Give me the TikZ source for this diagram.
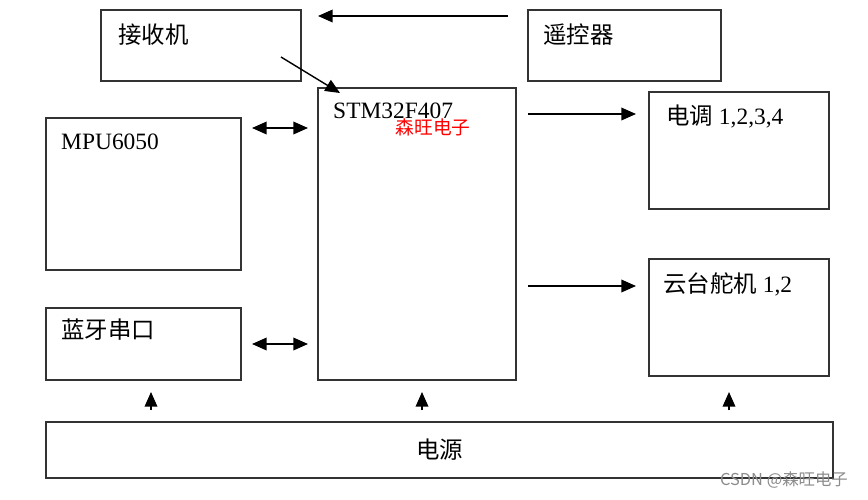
\documentclass[tikz,border=0pt]{standalone}
\usepackage{fontspec}
\setmainfont{Liberation Serif}
\newfontfamily\cjk{Noto Sans CJK SC}
\usepackage{tikz}
\usetikzlibrary{arrows.meta,fit}
\tikzset{
  blockbox/.style = {draw=black!80, line width=1.2pt, inner sep=0pt, outer sep=0pt, fit={#1}},
  blocklbl/.style = {anchor=west, inner sep=0pt, font=\fontsize{20}{24}\selectfont},
  sigar/.style    = {-{Triangle[length=4.4mm,width=3.8mm]}, line width=1.2pt},
  busar/.style    = {{Triangle[length=4.4mm,width=3.8mm]}-{Triangle[length=4.4mm,width=3.8mm]}, line width=1.2pt}
}

\begin{document}
\begin{tikzpicture}[x=0.03cm,y=-0.03cm]
  \useasboundingbox (0,0) rectangle (868,499);
  % blocks
  \node[blockbox={(101,10) (301,81)}]   (rx)   {};
  \node[blockbox={(528,10) (721,81)}]   (rc)   {};
  \node[blockbox={(318,88) (516,380)}]  (mcu)  {};
  \node[blockbox={(46,118) (241,270)}]  (imu)  {};
  \node[blockbox={(46,308) (241,380)}]  (bt)   {};
  \node[blockbox={(649,92) (829,209)}]  (esc)  {};
  \node[blockbox={(649,259) (829,376)}] (gim)  {};
  \node[blockbox={(46,422) (833,478)}]  (pwr)  {};
  % labels
  \node[blocklbl] (rxt)  at ([shift={(17,25)}]rx.north west)   {\cjk 接收机};
  \node[blocklbl] (rct)  at ([shift={(15,25)}]rc.north west)   {\cjk 遥控器};
  \node[blocklbl] (mcut) at ([shift={(15,23)}]mcu.north west)  {STM32F407};
  \node[blocklbl] (imut) at ([shift={(15,24)}]imu.north west)  {MPU6050};
  \node[blocklbl] (btt)  at ([shift={(15,22)}]bt.north west)   {\cjk 蓝牙串口};
  \node[blocklbl] (esct) at ([shift={(17,24)}]esc.north west)  {{\cjk 电调} 1,2,3,4};
  \node[blocklbl] (gimt) at ([shift={(14,25)}]gim.north west)  {{\cjk 云台舵机} 1,2};
  \node[font=\fontsize{20}{24}\selectfont] (pwrt) at (pwr.center) {\cjk 电源};
  % watermarks
  \node[red, font=\cjk\fontsize{16}{18}\selectfont, inner sep=0pt] (wm) at (433,127) {森旺电子};
  \node[black!45, font=\cjk\fontsize{14}{16}\selectfont, inner sep=0pt] (csdn) at (784,480) {CSDN @森旺电子};
  % connections
  \draw[sigar] ([shift={(-20,6)}]rc.north west) -- ([shift={(17,6)}]rx.north east);
  \draw[sigar] ([shift={(-20,-24)}]rx.south east) -- ([shift={(22,5)}]mcu.north west);
  \draw[busar] ([shift={(11,10)}]imu.north east) -- ([shift={(-10,40)}]mcu.north west);
  \draw[busar] ([shift={(11,36)}]bt.north east) -- ([shift={(-10,-36)}]mcu.south west);
  \draw[sigar] ([shift={(12,26)}]mcu.north east) -- ([shift={(-13,22)}]esc.north west);
  \draw[sigar] ([shift={(12,198)}]mcu.north east) -- ([shift={(-13,27)}]gim.north west);
  \draw[sigar] ([shift={(105,-12)}]pwr.north west) -- ([shift={(-90,12)}]bt.south east);
  \draw[sigar] ([shift={(104,-12)}]mcu.south west |- pwr.north) -- ([shift={(104,12)}]mcu.south west);
  \draw[sigar] ([shift={(80,-12)}]gim.south west |- pwr.north) -- ([shift={(80,16)}]gim.south west);
\end{tikzpicture}
\end{document}
